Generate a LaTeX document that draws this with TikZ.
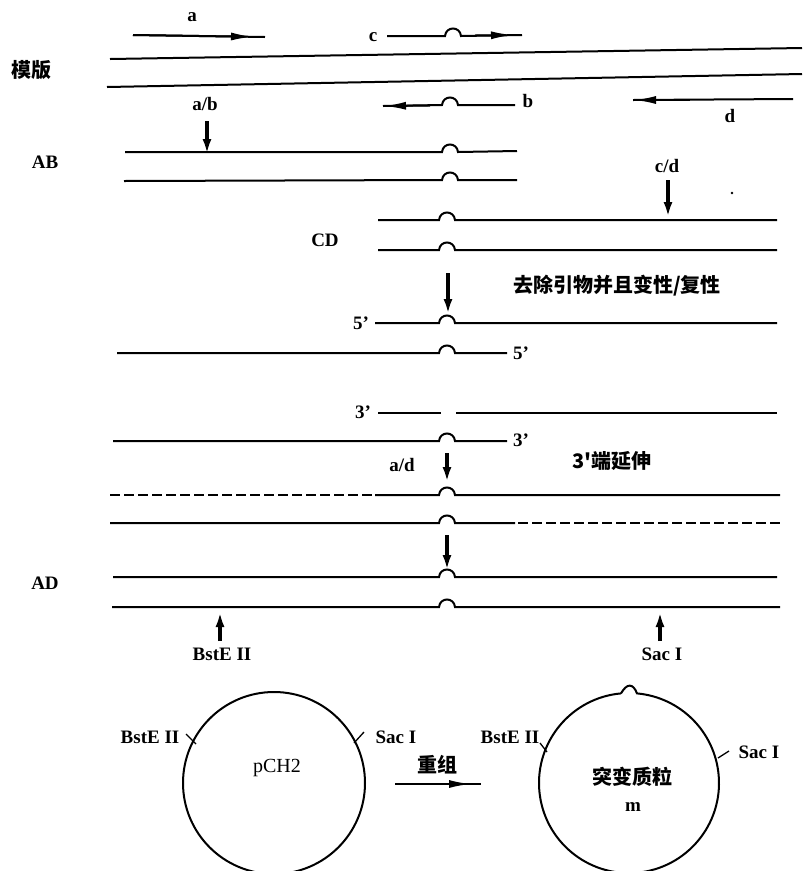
\documentclass[tikz,border=0pt]{standalone}
\usepackage{fontspec}
\setmainfont{Liberation Serif}
\newfontfamily\cjk{Noto Sans CJK SC}
\usetikzlibrary{arrows.meta}
\newcommand\bmp[2]{-- ({#1-8},#2) .. controls ({#1-7},{#2-10}) and ({#1+7},{#2-10}) .. ({#1+8},#2)}
\begin{document}
\begin{tikzpicture}[x=1pt,y=-1pt,line width=2pt,
  lbl/.style={inner sep=0pt,font=\bfseries\fontsize{19}{19}\selectfont},
  rlbl/.style={inner sep=0pt,font=\fontsize{20}{20}\selectfont},
  zh/.style={inner sep=0pt,font=\cjk\bfseries\fontsize{20}{20}\selectfont},
  arr/.style={-{Latex[length=22pt,width=8pt]}},
  varr/.style={line width=3.5pt,-{Latex[length=15pt,width=9pt]}},
  dsh/.style={dash pattern=on 10pt off 4pt},
  tick/.style={line width=1.3pt}]
\useasboundingbox (0,0) rectangle (803,871);

% primers on template
\node[lbl] (la) at (192,17) {a};
\coordinate (a1) at (133,35); \coordinate (a2) at (253,36.8); \coordinate (a3) at (265,37);
\draw (a1) -- (a3); \draw[arr] (a1) -- (a2);
\node[lbl] (lc) at (373,37) {c};
\coordinate (c1) at (387,36); \coordinate (c2) at (513,35); \coordinate (c3) at (522,35);
\draw (c1) \bmp{453}{36} -- (c3); \draw[arr] (475,35.5) -- (c2);

% template
\node[zh] (tmpl) at (32,70) {模版};
\draw (110,59) -- (802,48);
\draw (107,87) -- (802,74);

\node[lbl] (lab) at (205,104) {a/b};
\coordinate (ab1) at (207,121); \coordinate (ab2) at (207,154);
\draw[varr] (ab1) -- (ab2);
\draw (383,106) \bmp{450}{105} -- (515,105);
\draw[arr] (430,105.5) -- (384,106);
\node[lbl] (lb) at (528,101) {b};
\coordinate (d1) at (793,99); \coordinate (d2) at (634,100);
\draw (633,100) -- (d1); \draw[arr] (690,100) -- (d2);
\node[lbl] (ld) at (730,116) {d};

% AB
\node[lbl] (nAB) at (45,162) {AB};
\draw (125,152) \bmp{450}{152} -- (517,151);
\draw (124,181) \bmp{450}{180} -- (517,180);

\node[lbl] (lcd) at (667,166) {c/d};
\coordinate (cd1) at (668,180); \coordinate (cd2) at (668,217);
\draw[varr] (cd1) -- (cd2);
\fill (732,193) circle (1.4pt);

% CD
\node[lbl] (nCD) at (325,240) {CD};
\draw (378,220) \bmp{447}{220} -- (777,220);
\draw (378,250) \bmp{447}{250} -- (777,250);

\coordinate (s1) at (448,273); \coordinate (s2) at (448,314);
\draw[varr] (s1) -- (s2);
\node[zh] (step1) at (617,286) {去除引物并且变性/复性};

% denatured
\node[lbl] (f5a) at (361,323) {5'};
\draw (375,323) \bmp{447}{323} -- (777,323);
\draw (117,353) \bmp{447}{353} -- (507,353);
\node[lbl] (f5b) at (521,353) {5'};

\node[lbl] (t3a) at (363,412) {3'};
\draw (378,413) -- (441,413);
\draw (456,413) -- (777,413);
\draw (113,441) \bmp{447}{441} -- (507,441);
\node[lbl] (t3b) at (521,440) {3'};

\node[lbl] (lad) at (402,465) {a/d};
\coordinate (ad1) at (447,453); \coordinate (ad2) at (447,482);
\draw[varr] (ad1) -- (ad2);
\node[zh] (ext) at (612,461) {3'端延伸};

% extension
\draw[dsh] (110,495) -- (375,495);
\draw (375,495) \bmp{447}{495} -- (780,495);
\draw (110,523) \bmp{447}{523} -- (515,523);
\draw[dsh] (518,523) -- (780,523);

\coordinate (e1) at (447,535); \coordinate (e2) at (447,570);
\draw[varr] (e1) -- (e2);

% AD
\node[lbl] (nAD) at (45,583) {AD};
\draw (113,577) \bmp{447}{577} -- (777,577);
\draw (112,607) \bmp{447}{607} -- (780,607);

\coordinate (bs1) at (220,641); \coordinate (bs2) at (220,612);
\draw[varr] (bs1) -- (bs2);
\node[lbl] (lbs) at (222,654) {BstE II};
\coordinate (sc1) at (660,641); \coordinate (sc2) at (660,612);
\draw[varr] (sc1) -- (sc2);
\node[lbl] (lsc) at (662,654) {Sac I};

% plasmids
\coordinate (cl) at (274,783);
\draw (cl) circle (91);
\node[rlbl] (pch) at (277,768) {pCH2};
\node[lbl] (lbsl) at (150,737) {BstE II};
\draw[tick] (186,734) -- (196,744);
\node[lbl] (lscl) at (396,737) {Sac I};
\draw[tick] (364,732) -- (354,743);

\coordinate (cr) at (629,783);
\draw (621,693.4) arc[start angle=264.9, end angle=-84.9, radius=90]
   .. controls (633,683) and (627,683) .. (621,693.4);
\node[zh] (mut) at (632,777) {突变质粒};
\node[lbl] (lm) at (633,807) {m};
\node[lbl] (lbsr) at (510,737) {BstE II};
\draw[tick] (540,743) -- (547,752);
\node[lbl] (lscr) at (759,752) {Sac I};
\draw[tick] (729,751) -- (718,758);

\coordinate (r1) at (395,784); \coordinate (r2) at (471,784); \coordinate (r3) at (481,784);
\draw (r1) -- (r3); \draw[arr] (r1) -- (r2);
\node[zh] (recomb) at (437,765) {重组};
\end{tikzpicture}
\end{document}
